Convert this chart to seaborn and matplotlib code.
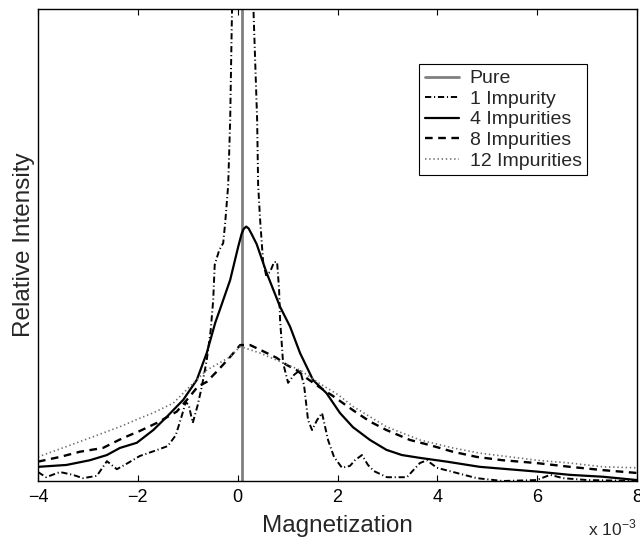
import matplotlib
matplotlib.use("Agg")
import matplotlib.pyplot as plt
import seaborn as sns
import pandas as pd

# ---- data (x in units of 1e-3, y relative intensity) ----
pure_x = [0.08, 0.08]
pure_y = [0.0, 1.2]

imp1_x = [-4.00, -3.84, -3.56, -3.30, -3.10, -2.82, -2.62, -2.42, -2.20, -1.96,
          -1.66, -1.40, -1.24, -1.12, -1.04, -0.98, -0.90, -0.80, -0.72, -0.62,
          -0.54, -0.49, -0.46, -0.37, -0.29, -0.25, -0.19, -0.15, -0.13, -0.11,
          -0.09, 0.08, 0.29, 0.31, 0.35, 0.39, 0.41, 0.45, 0.51, 0.57,
          0.65, 0.73, 0.79, 0.83, 0.85, 0.91, 1.01, 1.13, 1.25, 1.33,
          1.41, 1.49, 1.59, 1.69, 1.81, 1.93, 2.09, 2.25, 2.35, 2.49,
          2.61, 2.73, 2.99, 3.39, 3.65, 3.79, 3.99, 4.39, 4.79, 5.31,
          5.99, 6.26, 6.52, 7.00, 8.00]
imp1_y = [0.019, 0.008, 0.019, 0.013, 0.006, 0.011, 0.042, 0.025, 0.038, 0.053,
          0.064, 0.074, 0.097, 0.138, 0.167, 0.161, 0.123, 0.161, 0.199, 0.256,
          0.320, 0.383, 0.458, 0.489, 0.504, 0.547, 0.627, 0.765, 0.892, 1.019,
          1.190, 1.800, 1.190, 1.019, 0.892, 0.765, 0.627, 0.553, 0.464, 0.436,
          0.443, 0.464, 0.464, 0.405, 0.341, 0.250, 0.208, 0.225, 0.235, 0.203,
          0.129, 0.108, 0.129, 0.144, 0.087, 0.051, 0.028, 0.032, 0.044, 0.055,
          0.034, 0.021, 0.008, 0.008, 0.038, 0.044, 0.028, 0.017, 0.006, 0.000,
          0.002, 0.013, 0.006, 0.002, 0.000]

imp4_x = [-4.00, -3.43, -2.96, -2.62, -2.36, -2.02, -1.69, -1.42, -1.09, -0.82,
          -0.62, -0.45, -0.35, -0.15, 0.01, 0.08, 0.12, 0.17, 0.22, 0.28,
          0.38, 0.58, 0.85, 1.05, 1.25, 1.51, 1.78, 2.05, 2.31, 2.65,
          2.98, 3.29, 3.65, 4.19, 4.85, 5.99, 6.66, 7.32, 8.00]
imp4_y = [0.030, 0.034, 0.044, 0.055, 0.070, 0.081, 0.108, 0.136, 0.172, 0.214,
          0.271, 0.335, 0.365, 0.426, 0.496, 0.524, 0.534, 0.539, 0.535, 0.523,
          0.502, 0.441, 0.369, 0.327, 0.271, 0.214, 0.186, 0.144, 0.114, 0.087,
          0.066, 0.055, 0.049, 0.041, 0.030, 0.020, 0.013, 0.009, 0.002]

imp8_x = [-4.00, -3.56, -3.16, -2.70, -2.30, -1.96, -1.62, -1.22, -0.96, -0.80,
          -0.62, -0.39, -0.15, 0.05, 0.25, 0.45, 0.78, 0.98, 1.18, 1.38,
          1.65, 1.91, 2.31, 2.65, 2.98, 3.45, 3.85, 4.31, 4.79, 5.31,
          5.99, 6.66, 7.32, 8.00]
imp8_y = [0.041, 0.051, 0.062, 0.070, 0.091, 0.106, 0.123, 0.147, 0.179, 0.200,
          0.210, 0.235, 0.263, 0.288, 0.288, 0.278, 0.261, 0.246, 0.235, 0.218,
          0.198, 0.180, 0.150, 0.126, 0.108, 0.087, 0.076, 0.062, 0.051, 0.044,
          0.038, 0.030, 0.023, 0.017]

imp12_x = [-4.00, -3.43, -2.89, -2.36, -1.96, -1.70, -1.29, -0.96, -0.62, -0.15,
           0.05, 0.45, 0.85, 1.25, 1.65, 2.01, 2.31, 2.98, 3.65, 4.31,
           4.85, 5.99, 6.66, 7.32, 8.00]
imp12_y = [0.051, 0.073, 0.094, 0.115, 0.133, 0.144, 0.165, 0.200, 0.235, 0.263,
           0.285, 0.271, 0.253, 0.235, 0.206, 0.183, 0.158, 0.115, 0.087, 0.070,
           0.059, 0.044, 0.038, 0.030, 0.028]

x_ticks = [-4, -2, 0, 2, 4, 6, 8]
labels = ["Pure", "1 Impurity", "4 Impurities", "8 Impurities", "12 Impurities"]

# ---- style ----
sns.set_style("ticks")
plt.rcParams["font.family"] = ["Liberation Sans", "DejaVu Sans"]
plt.rcParams["mathtext.fontset"] = "custom"
plt.rcParams["mathtext.rm"] = "Liberation Sans"
plt.rcParams["lines.scale_dashes"] = False

fig = plt.figure(figsize=(6.4, 5.37), dpi=100)
ax = fig.add_axes([38 / 640, 1 - 481 / 537, 599 / 640, 472 / 537])

series = [
    (pure_x, pure_y, labels[0], dict(color="#808080", linewidth=2.0, linestyle="-")),
    (imp1_x, imp1_y, labels[1], dict(color="black", linewidth=1.4, linestyle=(0, (4.5, 2.0, 0.8, 2.0)))),
    (imp4_x, imp4_y, labels[2], dict(color="black", linewidth=1.6, linestyle="-")),
    (imp8_x, imp8_y, labels[3], dict(color="black", linewidth=1.7, linestyle=(0, (5.5, 4.0)))),
    (imp12_x, imp12_y, labels[4], dict(color="#6e6e6e", linewidth=1.2, linestyle=(0, (1.0, 2.0)))),
]

for xs, ys, lab, kw in series:
    df = pd.DataFrame({"x": xs, "y": ys})
    sns.lineplot(data=df, x="x", y="y", ax=ax, estimator=None, sort=False,
                 errorbar=None, label=lab, **kw)

ax.set_xlim(-4, 8)
ax.set_ylim(0, 1)
ax.set_xticks(x_ticks)
ax.set_yticks([])
ax.tick_params(axis="x", direction="in", top=True, bottom=True, length=4,
               width=0.8, labelsize=13, pad=6, colors="black")
for sp in ax.spines.values():
    sp.set_visible(True)
    sp.set_color("black")
    sp.set_linewidth(1.0)

ax.set_xlabel("Magnetization", fontsize=17.5, labelpad=6)
ax.set_ylabel("Relative Intensity", fontsize=17.5, labelpad=2)

fig.text(588 / 640, 1 - 528 / 537, "x 10$^{-3}$", fontsize=12.5, ha="left", va="center")

leg = ax.legend(loc="upper left", bbox_to_anchor=(419 / 640, 1 - 64 / 537),
                bbox_transform=fig.transFigure, fontsize=14, frameon=True,
                fancybox=False, shadow=False, framealpha=1, edgecolor="black",
                handlelength=1.75, handletextpad=0.55, labelspacing=0.15,
                borderpad=0.3, borderaxespad=0)
leg.get_frame().set_linewidth(0.8)

fig.savefig("out.png", dpi=100)
